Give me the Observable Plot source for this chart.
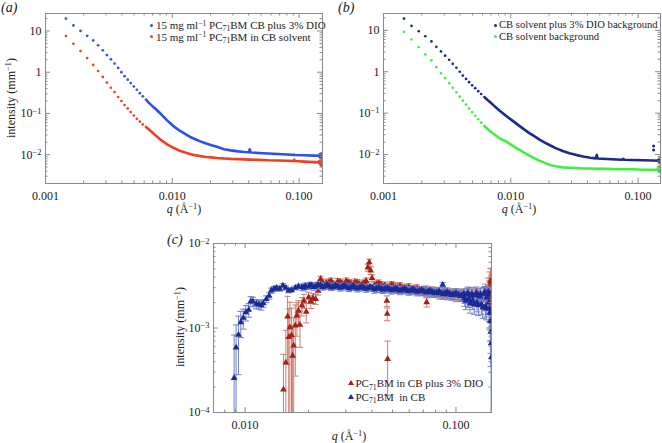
<!DOCTYPE html>
<html><head><meta charset="utf-8">
<script src="https://cdn.jsdelivr.net/npm/d3@7"></script>
<script src="https://cdn.jsdelivr.net/npm/@observablehq/plot@0.6"></script>
<style>
html,body{margin:0;padding:0;background:#fff;}
#root{position:relative;width:662px;height:443px;overflow:hidden;font-family:"Liberation Serif","Times New Roman",serif;color:#222;}
.abs{position:absolute;white-space:nowrap;line-height:1;}
.c{transform:translate(-50%,-50%);}
.rot{transform:translate(-50%,-50%) rotate(-90deg);}
.lg{font-size:11px;transform:translateY(-50%);}
.lgb{font-size:10.6px;}
.ax{font-size:12px;}
.pl{font-size:14px;font-style:italic;}
sup{font-size:0.7em;position:relative;top:-0.45em;vertical-align:baseline;line-height:0;}
sub{font-size:0.7em;position:relative;top:0.3em;vertical-align:baseline;line-height:0;}
.mk{position:absolute;width:3px;height:3px;border-radius:50%;}
.tri{position:absolute;width:0;height:0;border-left:3px solid transparent;border-right:3px solid transparent;}
</style></head><body>
<div id="root">
  <div id="pa" class="abs" style="left:0;top:0"></div>
  <div id="pb" class="abs" style="left:331px;top:0"></div>
  <div id="pc" class="abs" style="left:140px;top:225px"></div>

  <div class="abs pl" style="left:1px;top:1px">(<i>a</i>)</div>
  <div class="abs pl" style="left:338px;top:1px">(<i>b</i>)</div>
  <div class="abs pl" style="left:167px;top:233px">(<i>c</i>)</div>

  <div class="abs ax rot" style="left:11px;top:98px">intensity (mm<sup>−1</sup>)</div>
  <div class="abs ax rot" style="left:180px;top:327px">intensity (mm<sup>−1</sup>)</div>
  <div class="abs ax c" style="left:184px;top:209px"><i>q</i> (Å<sup>−1</sup>)</div>
  <div class="abs ax c" style="left:519px;top:209px"><i>q</i> (Å<sup>−1</sup>)</div>
  <div class="abs ax c" style="left:349px;top:435.5px"><i>q</i> (Å<sup>−1</sup>)</div>

  <span class="mk" style="left:150px;top:23.5px;background:#2c50ee"></span>
  <span class="mk" style="left:150px;top:35px;background:#ee3f20"></span>
  <div class="abs lg" style="left:156px;top:25px">15 mg ml<sup>−1</sup> PC<sub>71</sub>BM CB plus 3% DIO</div>
  <div class="abs lg" style="left:156px;top:36.7px">15 mg ml<sup>−1</sup> PC<sub>71</sub>BM in CB solvent</div>

  <span class="mk" style="left:494px;top:23.5px;background:#1b2a8c"></span>
  <span class="mk" style="left:494px;top:35px;background:#45ec45"></span>
  <div class="abs lg lgb" style="left:499px;top:25px">CB solvent plus 3% DIO background</div>
  <div class="abs lg lgb" style="left:499px;top:36.7px">CB solvent background</div>

  <span class="tri" style="left:347.7px;top:380.3px;border-bottom:5px solid #a52015"></span>
  <span class="tri" style="left:347.7px;top:393.7px;border-bottom:5px solid #1a2a95"></span>
  <div class="abs lg" style="left:355.5px;top:383.3px">PC<sub>71</sub>BM in CB plus 3% DIO</div>
  <div class="abs lg" style="left:355.5px;top:396.7px">PC<sub>71</sub>BM&nbsp; in CB</div>
</div>
<script>
// ================= DATA =================
// panels (a) and (b): sparse low-q points (same q grid)
const qLow = [0.00145, 0.00166, 0.00189, 0.00213, 0.00238, 0.0026, 0.00283, 0.00305, 0.00328, 0.0035, 0.00374, 0.00397, 0.0042, 0.00445, 0.0047, 0.00497, 0.00525, 0.00555, 0.00585];
const aBlueLow = [20, 13.6, 10, 7.6, 5.9, 4.5, 3.4, 2.6, 2.05, 1.62, 1.27, 1.0, 0.8, 0.66, 0.545, 0.45, 0.375, 0.31, 0.26];
const aRedLow  = [7.5, 4.9, 3.25, 2.2, 1.5, 1.07, 0.77, 0.56, 0.42, 0.33, 0.25, 0.2, 0.16, 0.132, 0.108, 0.089, 0.074, 0.063, 0.054];
const bNavyLow = [19.2, 12.8, 9.5, 7.2, 5.4, 4.0, 3.1, 2.45, 1.95, 1.55, 1.25, 1.0, 0.81, 0.67, 0.56, 0.47, 0.4, 0.34, 0.29];
const bGreenLow = [9.2, 6.0, 3.95, 2.62, 1.88, 1.29, 0.92, 0.70, 0.53, 0.41, 0.32, 0.25, 0.2, 0.16, 0.13, 0.105, 0.086, 0.071, 0.059];

// panel (a): dense part
const qADense = [0.0062, 0.0066, 0.007, 0.0074, 0.0081, 0.0091, 0.0103, 0.0116, 0.0128, 0.014, 0.0155, 0.0168, 0.0185, 0.0201, 0.0225, 0.0256, 0.0289, 0.033, 0.037, 0.0402, 0.0408, 0.0413, 0.042, 0.048, 0.057, 0.068, 0.08, 0.09, 0.0915, 0.093, 0.11, 0.13, 0.145, 0.153];
const aBlueDense = [0.215, 0.175, 0.148, 0.128, 0.098, 0.068, 0.048, 0.037, 0.031, 0.0264, 0.023, 0.0207, 0.0186, 0.0172, 0.0155, 0.0136, 0.0127, 0.012, 0.0116, 0.0114, 0.0135, 0.0118, 0.0113, 0.011, 0.0107, 0.0104, 0.0101, 0.0099, 0.0099, 0.0098, 0.0097, 0.0095, 0.0094, 0.0093];
const aRedDense = [0.047, 0.04, 0.034, 0.029, 0.023, 0.0178, 0.0145, 0.0122, 0.0111, 0.0103, 0.0096, 0.0092, 0.0088, 0.0086, 0.0083, 0.0081, 0.0079, 0.0078, 0.0077, 0.0076, 0.0076, 0.0076, 0.0076, 0.0075, 0.0073, 0.0072, 0.0071, 0.007, 0.0076, 0.007, 0.0068, 0.0066, 0.0065, 0.0064];
const qAEnd = [0.144, 0.146, 0.147, 0.148, 0.149, 0.15, 0.151, 0.152, 0.153];
const aBlueEnd = [0.0099, 0.0088, 0.0103, 0.0086, 0.0106, 0.0091, 0.0084, 0.0101, 0.0096];
const aRedEnd = [0.0069, 0.0061, 0.0071, 0.0058, 0.0067, 0.0055, 0.0072, 0.0060, 0.0053];

// panel (b): dense part
const qBDense = [0.0062, 0.0066, 0.007, 0.0074, 0.0081, 0.0091, 0.0103, 0.0116, 0.0128, 0.014, 0.0155, 0.0168, 0.0185, 0.0201, 0.0225, 0.0256, 0.0289, 0.033, 0.037, 0.042, 0.0468, 0.0474, 0.048, 0.057, 0.068, 0.075, 0.0765, 0.078, 0.09, 0.11, 0.13, 0.15];
const bNavyDense = [0.245, 0.205, 0.175, 0.15, 0.118, 0.088, 0.066, 0.05, 0.04, 0.033, 0.027, 0.023, 0.0195, 0.017, 0.0143, 0.0122, 0.0107, 0.0097, 0.009, 0.0084, 0.0081, 0.0098, 0.008, 0.0078, 0.0076, 0.0075, 0.0079, 0.0075, 0.0074, 0.0073, 0.0072, 0.0071];
const bGreenDense = [0.049, 0.041, 0.035, 0.031, 0.025, 0.021, 0.0165, 0.0132, 0.011, 0.0094, 0.008, 0.0071, 0.0063, 0.0057, 0.0052, 0.0049, 0.0048, 0.0047, 0.0046, 0.0046, 0.0045, 0.0045, 0.0045, 0.0045, 0.0044, 0.0044, 0.0044, 0.0044, 0.0044, 0.0043, 0.0043, 0.0043];
const qBNavyEnd = [0.1324, 0.1324, 0.145, 0.147, 0.148, 0.149, 0.15];
const bNavyEnd = [0.016, 0.0128, 0.0075, 0.0068, 0.0079, 0.0065, 0.0072];
const qBGreenEnd = [0.144, 0.146, 0.147, 0.148, 0.149, 0.15];
const bGreenEnd = [0.0049, 0.0039, 0.0052, 0.0041, 0.0047, 0.0037];

// panel (c): intensities and errors in units of 1e-3 mm^-1
const cBlueQ = [0.00887, 0.00906, 0.0093, 0.00954, 0.0098, 0.01008, 0.0104, 0.01064, 0.0109, 0.0113, 0.0116, 0.0119, 0.0122, 0.0126, 0.013, 0.0133, 0.0137, 0.0141, 0.0146, 0.0151, 0.0156, 0.0161, 0.0166, 0.0173, 0.0179,
  0.0186, 0.0193, 0.02, 0.0207, 0.0217, 0.0228, 0.0239, 0.025, 0.0262, 0.0275, 0.0288, 0.0302, 0.0317, 0.0332, 0.0348, 0.0365, 0.0382, 0.04, 0.042, 0.044,
  0.046, 0.0483, 0.0506, 0.053, 0.0556, 0.0583, 0.061, 0.064, 0.067, 0.0703, 0.0737, 0.0772, 0.081, 0.0848, 0.0865, 0.0889, 0.0932, 0.0977, 0.1024, 0.1073,
  0.11, 0.1125, 0.115, 0.1179, 0.12, 0.1235, 0.126, 0.1295, 0.132, 0.1357, 0.138, 0.1405, 0.1422, 0.144, 0.1455, 0.1462, 0.1468, 0.1472];
const cBlueI = [0.256, 0.585, 0.83, 1.17, 1.32, 1.53, 1.64, 2.07, 2.05, 1.93, 1.9, 1.85, 1.96, 2.2, 2.4, 2.77, 2.9, 2.98, 2.9, 3.17, 2.98, 2.77, 2.82, 2.98, 3.1,
  3.05, 3.15, 3.1, 3.2, 3.15, 3.2, 3.12, 3.15, 3.08, 3.12, 3.05, 3.08, 3.02, 3.05, 2.98, 3.02, 2.96, 2.98, 2.93, 2.92,
  2.9, 2.88, 2.87, 2.84, 2.85, 2.8, 2.79, 2.76, 2.74, 2.71, 2.69, 2.66, 2.63, 2.6, 3.24, 2.58, 2.55, 2.5, 2.48, 2.43,
  2.25, 2.5, 2.2, 2.4, 2.1, 2.45, 2.0, 2.35, 1.9, 2.55, 1.8, 2.3, 2.7, 1.7, 1.2, 0.9, 0.66, 0.45];
const cBlueE = [0.57, 0.5, 0.55, 0.4, 0.35, 0.32, 0.3, 0.28, 0.26, 0.24, 0.22, 0.22, 0.2, 0.2, 0.2, 0.2, 0.2, 0.18, 0.18, 0.18, 0.17, 0.17, 0.16, 0.16, 0.15,
  0.25, 0.25, 0.25, 0.25, 0.25, 0.25, 0.25, 0.25, 0.25, 0.25, 0.25, 0.25, 0.25, 0.25, 0.25, 0.25, 0.25, 0.25, 0.28, 0.28,
  0.28, 0.28, 0.28, 0.28, 0.28, 0.28, 0.28, 0.28, 0.28, 0.28, 0.28, 0.28, 0.28, 0.28, 0.2, 0.32, 0.32, 0.32, 0.32, 0.32,
  0.45, 0.45, 0.45, 0.45, 0.45, 0.45, 0.45, 0.45, 0.45, 0.45, 0.45, 0.45, 0.45, 0.5, 0.5, 0.55, 0.6, 0.6];
// interleaved second set of blue points in the dense band
const cBlueQ2 = [0.019, 0.0203, 0.0212, 0.0222, 0.0233, 0.0245, 0.0256, 0.0268, 0.0282, 0.0295, 0.031, 0.0325, 0.034, 0.0356, 0.0373, 0.0391,
  0.041, 0.043, 0.045, 0.0472, 0.0495, 0.0518, 0.0543, 0.057, 0.0597, 0.0625, 0.0655, 0.0687, 0.072, 0.0755, 0.079, 0.083,
  0.087, 0.091, 0.0955, 0.1, 0.105, 0.109, 0.1112, 0.114, 0.1165, 0.119, 0.122, 0.1248, 0.1278, 0.1308, 0.134, 0.137, 0.1392, 0.1412, 0.1432, 0.1448];
const cBlueI2 = [3.0, 3.22, 3.05, 3.25, 3.05, 3.25, 3.02, 3.2, 2.98, 3.18, 2.95, 3.15, 2.92, 3.1, 2.9, 3.06,
  2.86, 3.02, 2.84, 2.98, 2.8, 2.95, 2.76, 2.92, 2.72, 2.88, 2.68, 2.82, 2.62, 2.78, 2.58, 2.72,
  2.5, 2.66, 2.45, 2.6, 2.38, 2.55, 2.1, 2.6, 1.95, 2.55, 1.9, 2.6, 1.85, 2.5, 1.75, 2.65, 1.7, 2.5, 2.0, 1.5];
const cBlueE2 = [0.25, 0.25, 0.25, 0.25, 0.25, 0.25, 0.25, 0.25, 0.25, 0.25, 0.25, 0.25, 0.25, 0.25, 0.25, 0.25,
  0.28, 0.28, 0.28, 0.28, 0.28, 0.28, 0.28, 0.28, 0.28, 0.28, 0.28, 0.28, 0.28, 0.28, 0.28, 0.28,
  0.32, 0.32, 0.32, 0.32, 0.32, 0.32, 0.45, 0.45, 0.45, 0.45, 0.45, 0.45, 0.45, 0.45, 0.45, 0.45, 0.45, 0.45, 0.5, 0.55];

const cRedQ = [0.0152, 0.0156, 0.0159, 0.0161, 0.0163, 0.0166, 0.0168, 0.017, 0.0173, 0.0176, 0.0179, 0.0182, 0.0186, 0.019, 0.0195, 0.02, 0.0205, 0.021, 0.0216, 0.0222,
  0.0228, 0.0235, 0.0242, 0.025, 0.0262, 0.0275, 0.0288, 0.0302, 0.0317, 0.0332, 0.0348, 0.0365, 0.0375, 0.0382, 0.0388, 0.0394, 0.04, 0.042, 0.044, 0.046,
  0.047, 0.0472, 0.0474, 0.0483, 0.0506, 0.053, 0.0556, 0.0583, 0.061, 0.064, 0.067, 0.0703, 0.0726, 0.0737, 0.0772, 0.081, 0.0848, 0.0889, 0.0932, 0.0977,
  0.1024, 0.1073, 0.1125, 0.1179, 0.1235, 0.1295, 0.1357, 0.139, 0.1422, 0.1445, 0.146, 0.147];
const cRedI = [0.187, 0.39, 1.37, 0.78, 1.02, 0.82, 0.47, 0.62, 1.07, 1.4, 1.6, 1.09, 1.84, 2.1, 1.55, 2.3, 2.05, 2.25, 2.2, 2.75,
  3.8, 3.17, 3.4, 3.5, 3.3, 3.55, 3.4, 3.6, 3.35, 3.5, 3.3, 3.4, 3.6, 5.2, 5.97, 4.8, 3.9, 3.3, 3.25, 3.2,
  2.1, 1.47, 0.43, 3.1, 3.15, 3.05, 3.0, 2.95, 2.9, 2.85, 2.8, 2.75, 2.02, 2.7, 2.68, 2.65, 2.55, 2.6, 2.5, 2.5,
  2.45, 2.4, 2.35, 2.3, 2.4, 2.35, 2.5, 2.2, 2.7, 3.2, 2.0, 2.6];
const cRedE = [0.3, 0.55, 1.0, 0.9, 1.0, 0.9, 0.6, 0.7, 0.8, 0.6, 0.5, 0.5, 0.45, 0.4, 0.4, 0.35, 0.35, 0.3, 0.3, 0.3,
  0.3, 0.3, 0.3, 0.3, 0.3, 0.3, 0.3, 0.3, 0.3, 0.3, 0.3, 0.3, 0.3, 0.5, 0.55, 0.5, 0.35, 0.3, 0.3, 0.3,
  0.3, 0.25, 0.27, 0.3, 0.3, 0.3, 0.3, 0.3, 0.3, 0.3, 0.3, 0.3, 0.25, 0.3, 0.3, 0.3, 0.3, 0.3, 0.3, 0.3,
  0.35, 0.35, 0.35, 0.35, 0.35, 0.35, 0.5, 0.6, 1.2, 1.4, 1.5, 1.6];
// interleaved second set of red points in the dense band
const cRedQ2 = [0.0232, 0.0246, 0.0256, 0.0268, 0.0282, 0.0295, 0.031, 0.0325, 0.034, 0.0356, 0.037, 0.041, 0.043, 0.045, 0.0495, 0.0518, 0.0543, 0.057, 0.0597, 0.0625,
  0.0655, 0.0687, 0.072, 0.0755, 0.079, 0.083, 0.087, 0.091, 0.0955, 0.1, 0.105, 0.11, 0.115, 0.12, 0.1265, 0.1325, 0.138, 0.1435, 0.1458, 0.1465];
const cRedI2 = [3.5, 3.25, 3.6, 3.2, 3.5, 3.25, 3.45, 3.2, 3.45, 3.2, 3.35, 3.2, 3.4, 3.1, 3.25, 2.95, 3.15, 2.9, 3.05, 2.8,
  2.95, 2.7, 2.85, 2.6, 2.75, 2.5, 2.7, 2.45, 2.6, 2.4, 2.55, 2.3, 2.55, 2.25, 2.55, 2.25, 2.7, 2.4, 3.6, 2.3];
const cRedE2 = [0.3, 0.3, 0.3, 0.3, 0.3, 0.3, 0.3, 0.3, 0.3, 0.3, 0.3, 0.3, 0.3, 0.3, 0.3, 0.3, 0.3, 0.3, 0.3, 0.3,
  0.3, 0.3, 0.3, 0.3, 0.3, 0.3, 0.3, 0.3, 0.3, 0.35, 0.35, 0.35, 0.35, 0.35, 0.35, 0.35, 0.6, 1.2, 1.5, 1.6];

// ticks
const abXMajor = [0.001, 0.01, 0.1];
const abXLabels = ["0.001", "0.010", "0.100"];
const abXMinor = [0.002, 0.003, 0.004, 0.005, 0.006, 0.007, 0.008, 0.009, 0.02, 0.03, 0.04, 0.05, 0.06, 0.07, 0.08, 0.09];
const abYMajor = [0.01, 0.1, 1, 10];
const abYLabels = ["10^−2", "10^−1", "1", "10"];
const abYMinor = [0.003, 0.004, 0.005, 0.006, 0.007, 0.008, 0.009, 0.02, 0.03, 0.04, 0.05, 0.06, 0.07, 0.08, 0.09, 0.2, 0.3, 0.4, 0.5, 0.6, 0.7, 0.8, 0.9, 2, 3, 4, 5, 6, 7, 8, 9, 20];
const cXMajor = [0.01, 0.1];
const cXLabels = ["0.010", "0.100"];
const cXMinor = [0.008, 0.009, 0.02, 0.03, 0.04, 0.05, 0.06, 0.07, 0.08, 0.09];
const cYMajor = [0.0001, 0.001, 0.01];
const cYLabels = ["10^−4", "10^−3", "10^−2"];
const cYMinor = [0.0002, 0.0003, 0.0004, 0.0005, 0.0006, 0.0007, 0.0008, 0.0009, 0.002, 0.003, 0.004, 0.005, 0.006, 0.007, 0.008, 0.009];

// ================= RENDER =================
const rows = (q, I, k = 1) => q.map((d, i) => ({q: d, I: I[i] * k}));
const errRows = (q, I, E) => q.map((d, i) => ({q: d, I: I[i] * 1e-3, lo: Math.max((I[i] - E[i]) * 1e-3, 3e-5), hi: (I[i] + E[i]) * 1e-3}));
const capSymbol = {draw(ctx, size) { const w = Math.sqrt(size) / 2; ctx.moveTo(-w, 0); ctx.lineTo(w, 0); }};
const FONT = '"Liberation Serif", "Times New Roman", serif';
const GRAY = "#8a8a8a";

function decor(xMajor, xLabels, xMinor, yMajor, yLabels, yMinor, pw, ph) {
  const fx = new Map(xMajor.map((d, i) => [d, xLabels[i]]));
  const fy = new Map(yMajor.map((d, i) => [d, yLabels[i]]));
  return [
    Plot.frame({stroke: GRAY}),
    Plot.tickX(xMajor, {x: d => d, insetTop: ph - 5, stroke: GRAY}),
    Plot.tickX(xMajor, {x: d => d, insetBottom: ph - 5, stroke: GRAY}),
    Plot.tickX(xMinor, {x: d => d, insetTop: ph - 2.5, stroke: GRAY}),
    Plot.tickX(xMinor, {x: d => d, insetBottom: ph - 2.5, stroke: GRAY}),
    Plot.tickY(yMajor, {y: d => d, insetRight: pw - 5, stroke: GRAY}),
    Plot.tickY(yMajor, {y: d => d, insetLeft: pw - 5, stroke: GRAY}),
    Plot.tickY(yMinor, {y: d => d, insetRight: pw - 2.5, stroke: GRAY}),
    Plot.tickY(yMinor, {y: d => d, insetLeft: pw - 2.5, stroke: GRAY}),
    Plot.axisX(xMajor, {tickSize: 0, tickPadding: 8, tickFormat: d => fx.get(d), label: null, fontSize: 12, color: "#222"}),
    Plot.axisY(yMajor, {tickSize: 0, tickPadding: 4, tickFormat: d => fy.get(d), label: null, fontSize: 12, color: "#222"})
  ];
}

function supify(svg) {
  svg.querySelectorAll("text").forEach(t => {
    const s = t.textContent;
    if (!s.includes("^")) return;
    const [b, e] = s.split("^");
    const target = t.querySelector("tspan") || t;
    target.textContent = b;
    const ts = document.createElementNS("http://www.w3.org/2000/svg", "tspan");
    ts.setAttribute("dy", "-0.42em");
    ts.style.fontSize = "8.5px";
    ts.textContent = e;
    target.appendChild(ts);
  });
}

function abPanel(el, opt) {
  const W = 331, H = 220;
  const pw = W - opt.ml - opt.mr, ph = H - 13 - 37;
  const svg = Plot.plot({
    width: W, height: H, marginLeft: opt.ml, marginRight: opt.mr, marginTop: 13, marginBottom: 37,
    x: {type: "log", domain: opt.xd},
    y: {type: "log", domain: opt.yd},
    style: {fontFamily: FONT, fontSize: "12px", background: "transparent", color: "#222", overflow: "visible"},
    marks: [
      ...opt.series.flatMap(s => [
        Plot.line(rows(s.qd, s.dense), {x: "q", y: "I", stroke: s.color, strokeWidth: 2.6, clip: true}),
        Plot.dot(rows(s.ql, s.low), {x: "q", y: "I", r: 1.35, fill: s.color, clip: true}),
        Plot.dot(rows(s.qe, s.end), {x: "q", y: "I", r: 1.5, fill: s.color, clip: true})
      ]),
      ...decor(abXMajor, abXLabels, abXMinor, abYMajor, abYLabels, abYMinor, pw, ph)
    ]
  });
  supify(svg);
  document.getElementById(el).appendChild(svg);
}

abPanel("pa", {ml: 45, mr: 9, xd: [0.001, 0.153], yd: [0.002, 26.5], series: [
  {color: "#ee3f20", ql: qLow, low: aRedLow, qd: qADense, dense: aRedDense, qe: qAEnd, end: aRedEnd},
  {color: "#2c50ee", ql: qLow, low: aBlueLow, qd: qADense, dense: aBlueDense, qe: qAEnd, end: aBlueEnd}
]});
abPanel("pb", {ml: 52, mr: 2, xd: [0.001, 0.15], yd: [0.002, 25.5], series: [
  {color: "#45ec45", ql: qLow, low: bGreenLow, qd: qBDense, dense: bGreenDense, qe: qBGreenEnd, end: bGreenEnd},
  {color: "#1b2a8c", ql: qLow, low: bNavyLow, qd: qBDense, dense: bNavyDense, qe: qBNavyEnd, end: bNavyEnd}
]});

(function () {
  const W = 400, H = 218, ml = 73, mr = 49, mt = 18, mb = 31;
  const pw = W - ml - mr, ph = H - mt - mb;
  const red = [...errRows(cRedQ, cRedI, cRedE), ...errRows(cRedQ2, cRedI2, cRedE2)];
  const blue = [...errRows(cBlueQ, cBlueI, cBlueE), ...errRows(cBlueQ2, cBlueI2, cBlueE2)];
  const series = (data, bar, tri) => [
    Plot.ruleX(data, {x: "q", y1: "lo", y2: "hi", stroke: bar, strokeWidth: 1, clip: true}),
    Plot.dot(data, {x: "q", y: "hi", symbol: capSymbol, r: 3.6, stroke: bar, fill: "none", strokeWidth: 1, clip: true}),
    Plot.dot(data, {x: "q", y: "lo", symbol: capSymbol, r: 3.6, stroke: bar, fill: "none", strokeWidth: 1, clip: true}),
    Plot.dot(data, {x: "q", y: "I", symbol: "triangle", r: 2.5, fill: tri, stroke: "none", clip: true})
  ];
  const svg = Plot.plot({
    width: W, height: H, marginLeft: ml, marginRight: mr, marginTop: mt, marginBottom: mb,
    x: {type: "log", domain: [0.00708, 0.1474]},
    y: {type: "log", domain: [0.0001, 0.01]},
    style: {fontFamily: FONT, fontSize: "12px", background: "transparent", color: "#222", overflow: "visible"},
    marks: [
      ...series(red, "#cc7e70", "#a52015"),
      ...series(blue, "#6f7fc8", "#1a2a95"),
      ...decor(cXMajor, cXLabels, cXMinor, cYMajor, cYLabels, cYMinor, pw, ph)
    ]
  });
  supify(svg);
  document.getElementById("pc").appendChild(svg);
})();
</script>
</body></html>
